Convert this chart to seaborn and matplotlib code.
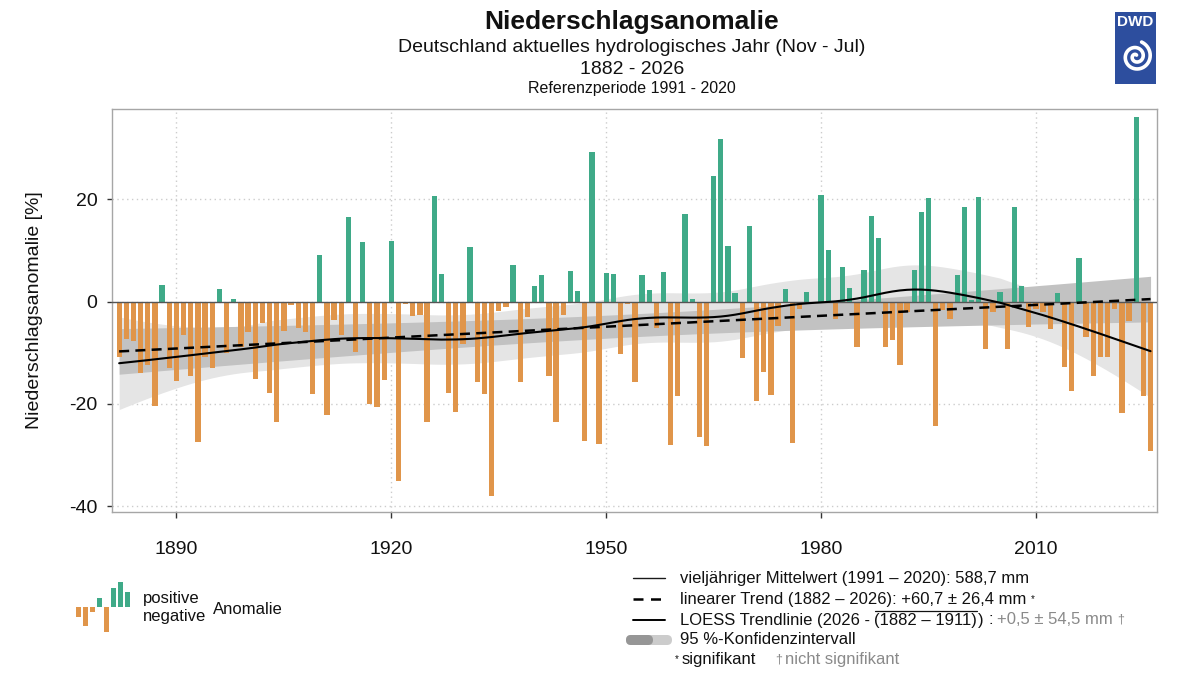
import numpy as np
import pandas as pd
import matplotlib
matplotlib.use("Agg")
import matplotlib.pyplot as plt
import seaborn as sns
from matplotlib.patches import FancyBboxPatch, Rectangle

# ---------------- data ----------------
years = list(range(1882, 2027))
anomaly = [
    -10.9, -7.3, -7.7, -13.9, -12.4, -20.4, 3.3, -13.0,            # 1882-1889
    -15.6, -6.6, -14.6, -27.4, -10.9, -13.0, 2.4, -10.0, 0.5, -8.9,  # 1890-1899
    -6.0, -15.2, -4.2, -17.9, -23.5, -5.7, -0.7, -5.2, -6.0, -18.0,  # 1900-1909
    9.1, -22.1, -3.6, -6.6, 16.5, -9.9, 11.7, -20.1, -20.5, -15.3,   # 1910-1919
    11.9, -35.1, -0.4, -2.9, -2.7, -23.5, 20.7, 5.4, -17.9, -21.6,   # 1920-1929
    -8.2, 10.7, -15.8, -18.0, -38.0, -1.8, -1.0, 7.2, -15.8, -3.0,   # 1930-1939
    3.0, 5.1, -14.5, -23.5, -2.6, 5.9, 2.0, -27.3, 29.3, -27.8,      # 1940-1949
    5.5, 5.3, -10.2, -0.5, -15.7, 5.2, 2.2, -5.1, 5.8, -28.0,        # 1950-1959
    -18.5, 17.0, 0.5, -26.4, -28.2, 24.5, 31.7, 10.8, 1.6, -11.1,    # 1960-1969
    14.7, -19.5, -13.8, -18.2, -4.8, 2.5, -27.6, -1.4, 1.9, -0.2,    # 1970-1979
    20.8, 10.1, -3.4, 6.8, 2.7, -8.9, 6.1, 16.7, 12.4, -8.9,         # 1980-1989
    -7.5, -12.3, -2.1, 6.2, 17.4, 20.3, -24.4, -1.7, -3.4, 5.1,      # 1990-1999
    18.4, 0.3, 20.5, -9.3, -2.1, 1.8, -9.2, 18.5, 3.1, -5.0,         # 2000-2009
    -1.5, -2.0, -5.3, 1.6, -12.7, -17.5, 8.5, -6.9, -14.6, -10.8,    # 2010-2019
    -10.8, -1.5, -21.8, -3.8, 36.0, -18.4, -29.1,                    # 2020-2026
]
assert len(years) == len(anomaly)

x_ticks = [1890, 1920, 1950, 1980, 2010]
y_ticks = [-40, -20, 0, 20]
icon_heights = [-9.3, -18.7, -4.3, 9.7, -24.3, 19.7, 25.0, 15.0]   # legend pictogram

title = "Niederschlagsanomalie"
subtitle = "Deutschland aktuelles hydrologisches Jahr (Nov - Jul)"
period = "1882 - 2026"
refperiod = "Referenzperiode 1991 - 2020"
ylabel = "Niederschlagsanomalie [%]"

GREEN = "#3FAA88"
ORANGE = "#E0954A"
GRAY_TXT = "#8a8a8a"

W, H = 1200, 675

sns.set_theme(style="white")
plt.rcParams["font.family"] = ["Liberation Sans", "DejaVu Sans"]
plt.rcParams["axes.unicode_minus"] = False

fig = plt.figure(figsize=(W / 100, H / 100), dpi=100)
ax = fig.add_axes([112 / W, 1 - 512 / H, (1157 - 112) / W, (512 - 109) / H])

xv = np.array(years, float)
yv = np.array(anomaly, float)


def loess_fit(xd, yd, span, degree=1):
    n = len(xd)
    q = max(int(np.ceil(span * n)), degree + 2)
    L = np.zeros((n, n))
    for i in range(n):
        d = np.abs(xd - xd[i])
        h = np.sort(d)[q - 1] * 1.0001 + 1e-9
        w = (1 - np.clip(d / h, 0, 1) ** 3) ** 3
        X = np.vander(xd - xd[i], degree + 1, increasing=True)
        XtW = X.T * w
        op = np.linalg.solve(XtW @ X, XtW)
        L[i] = op[0]
    fit = L @ yd
    res = yd - fit
    M = np.eye(n) - L
    d1 = np.trace(M.T @ M)
    sigma = np.sqrt(np.sum(res ** 2) / d1)
    se = sigma * np.sqrt(np.sum(L ** 2, axis=1))
    return fit, se


tq = 1.977
lo_fit, lo_se = loess_fit(xv, yv, span=0.3, degree=1)

coef = np.polyfit(xv, yv, 1)
lin = np.polyval(coef, xv)
n = len(xv)
s = np.sqrt(np.sum((yv - lin) ** 2) / (n - 2))
lin_se = s * np.sqrt(1 / n + (xv - xv.mean()) ** 2 / np.sum((xv - xv.mean()) ** 2))

ax.fill_between(xv, lo_fit - tq * lo_se, lo_fit + tq * lo_se, color="#e5e5e5", lw=0, zorder=1)
ax.fill_between(xv, lin - tq * lin_se, lin + tq * lin_se, color="#c2c2c2", lw=0, zorder=1.1)

df = pd.DataFrame({"Jahr": xv, "Anomalie": yv})
df["Art"] = np.where(df["Anomalie"] >= 0, "positive", "negative")
sns.barplot(data=df, x="Jahr", y="Anomalie", hue="Art", hue_order=["positive", "negative"],
            palette={"positive": GREEN, "negative": ORANGE}, native_scale=True, dodge=False,
            width=0.74, errorbar=None, legend=False, linewidth=0, saturation=1, ax=ax, zorder=2)

ax.axhline(0, color="#555555", lw=1.0, zorder=3)
sns.lineplot(x=xv, y=lin, ax=ax, color="black", lw=1.8, linestyle=(0, (4, 2.5)), zorder=4)
sns.lineplot(x=xv, y=lo_fit, ax=ax, color="black", lw=1.5, zorder=4)

ax.set_xlim(1881.0, 2026.9)
ax.set_ylim(-41.1, 37.6)
ax.set_xticks(x_ticks)
ax.set_yticks(y_ticks)
ax.set_xlabel("")
ax.set_ylabel(ylabel, fontsize=14, color="#111111")
ax.yaxis.set_label_coords(-0.066, 0.5)
ax.grid(True, linestyle=(0, (1, 2.5)), color="#cccccc", lw=1)
ax.set_axisbelow(True)
for sp in ax.spines.values():
    sp.set_color("#a6a6a6")
    sp.set_linewidth(1)
ax.tick_params(axis="x", bottom=True, length=4.3, width=1, color="#333333", pad=16.5,
               labelsize=14, labelcolor="#111111")
ax.tick_params(axis="y", left=True, length=3.5, width=1, color="#333333", pad=7,
               labelsize=14, labelcolor="#111111")

# ---------------- overlay for titles and legend ----------------
ov = fig.add_axes([0, 0, 1, 1], zorder=5)
ov.set_xlim(0, W)
ov.set_ylim(H, 0)
ov.axis("off")
ov.patch.set_alpha(0)

cx = 632
ov.text(cx, 22, title, ha="center", va="center", fontsize=19, fontweight="bold", color="#111111")
ov.text(cx, 48, subtitle, ha="center", va="center", fontsize=14, color="#111111")
ov.text(cx, 70, period, ha="center", va="center", fontsize=14, color="#111111")
ov.text(cx, 88, refperiod, ha="center", va="center", fontsize=11.5, color="#111111")

# DWD logo
lg = fig.add_axes([1115 / W, 1 - 83.5 / H, 41 / W, 72 / H], zorder=6)
lg.set_xlim(0, 41)
lg.set_ylim(0, 72)
lg.axis("off")
lg.add_patch(Rectangle((0, 0), 41, 72, color="#2D4E9E"))
lg.text(20.5, 61.5, "DWD", color="white", fontweight="bold", fontsize=11, ha="center", va="center")
th = np.linspace(0, 4.0 * np.pi, 500)
rr = 1.5 + 14.0 * th / th[-1]
lg.plot(21 + rr * np.cos(th + 1.2), 27 + rr * np.sin(th + 1.2), color="white", lw=2.6,
        solid_capstyle="round")

# left legend pictogram
ic = fig.add_axes([72 / W, 1 - 636 / H, 62 / W, 58 / H], zorder=6)
ic.set_xlim(0, 62)
ic.set_ylim(-(636 - 607.3), 607.3 - 578)
ic.axis("off")
icon_x = [6.3 + 7 * i for i in range(len(icon_heights))]
ic.bar(icon_x, icon_heights, width=5.3,
       color=[GREEN if v >= 0 else ORANGE for v in icon_heights], linewidth=0)
ov.text(142.7, 598, "positive", ha="left", va="center", fontsize=12, color="#111111")
ov.text(142.7, 617, "negative", ha="left", va="center", fontsize=12, color="#111111")
ov.text(212.7, 609, "Anomalie", ha="left", va="center", fontsize=12, color="#111111")

# right legend
rows = [578.3, 599.3, 620, 640, 659.3]
ov.plot([633, 665], [rows[0]] * 2, color="#1a1a1a", lw=1.0)
ov.plot([633, 665], [rows[1]] * 2, color="black", lw=1.8, linestyle=(0, (4, 3)))
ov.plot([633, 665], [rows[2]] * 2, color="black", lw=1.4)
ov.add_patch(FancyBboxPatch((626, rows[3] - 5), 46, 10, boxstyle="round,pad=0,rounding_size=5",
                            facecolor="#cccccc", edgecolor="none"))
ov.add_patch(FancyBboxPatch((626, rows[3] - 5), 27, 10, boxstyle="round,pad=0,rounding_size=5",
                            facecolor="#969696", edgecolor="none"))

renderer = fig.canvas.get_renderer()


def seq(x0, yc, pieces):
    xcur = x0
    boxes = []
    for s, gap, kw in pieces:
        xcur += gap
        t = ov.text(xcur, yc, s, ha="left", va="center", **kw)
        bb = t.get_window_extent(renderer)
        boxes.append(bb)
        xcur = bb.x1
    return boxes


BLK = dict(fontsize=12, color="#111111")
GRY = dict(fontsize=12, color=GRAY_TXT)
SMALL_B = dict(fontsize=7, color="#111111")
SMALL_G = dict(fontsize=9, color=GRAY_TXT)

seq(680, rows[0], [("vieljähriger Mittelwert (1991 – 2020): 588,7 mm", 0, BLK)])
seq(680, rows[1], [("linearer Trend (1882 – 2026): +60,7 ± 26,4 mm", 0, BLK), ("*", 4, SMALL_B)])
b = seq(680, rows[2], [("LOESS Trendlinie (2026 -", 0, BLK), ("(1882 – 1911)", 4.5, BLK),
                       (")", 0.5, BLK), (":", 4.5, BLK), ("+0,5 ± 54,5 mm", 4.5, GRY),
                       ("†", 4, SMALL_G)])
ob = b[1]
ov.plot([ob.x0 + 0.5, ob.x1 - 0.5], [rows[2] - 9.5] * 2, color="#111111", lw=0.9)
seq(680, rows[3], [("95 %-Konfidenzintervall", 0, BLK)])
seq(675, rows[4], [("*", 0, SMALL_B), ("signifikant", 3, BLK)])
seq(775, rows[4], [("†", 0, SMALL_G), ("nicht signifikant", 3, GRY)])

fig.savefig("out.png", dpi=100)
